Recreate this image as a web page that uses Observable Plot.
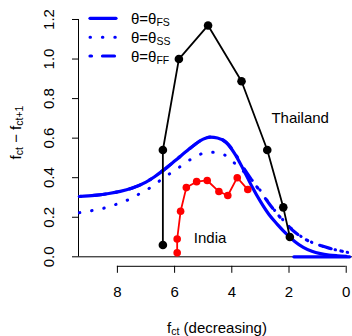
<!DOCTYPE html>
<html><head><meta charset="utf-8">
<script src="https://cdn.jsdelivr.net/npm/d3@7"></script>
<script src="https://cdn.jsdelivr.net/npm/@observablehq/plot@0.6"></script>
<style>body{margin:0;background:#fff} svg{display:block}</style>
</head><body><div id="chart"></div>
<script>
// ---- data ----
const fsX = [9.33, 8.8, 8.3, 7.9, 7.5, 7.0, 6.7, 6.4, 6.0, 5.6, 5.3, 5.0, 4.75, 4.5, 4.2, 3.9, 3.6, 3.3, 3.0, 2.7, 2.4, 2.1, 1.8, 1.5, 1.2, 0.9, 0.6, 0.3, 0.0];
const fsY = [0.305, 0.311, 0.320, 0.331, 0.347, 0.378, 0.405, 0.437, 0.484, 0.532, 0.567, 0.595, 0.605, 0.601, 0.578, 0.522, 0.443, 0.357, 0.280, 0.214, 0.163, 0.117, 0.078, 0.048, 0.028, 0.016, 0.009, 0.005, 0.002];
const fsZeroX = [1.83, -0.12];
const fsZeroY = [0, 0];
const ssX = [9.33, 8.88, 8.42, 7.99, 7.55, 7.15, 6.75, 6.38, 6.0, 5.62, 5.21, 4.77, 4.34, 3.96, 3.56, 3.23, 3.0, 2.7, 2.4, 2.1, 1.8, 1.5, 1.2, 0.9, 0.6, 0.3, 0.0, -0.1];
const ssY = [0.223, 0.234, 0.248, 0.268, 0.293, 0.325, 0.359, 0.400, 0.436, 0.475, 0.512, 0.529, 0.521, 0.480, 0.428, 0.377, 0.335, 0.272, 0.217, 0.170, 0.127, 0.096, 0.073, 0.057, 0.044, 0.033, 0.024, 0.021];
const ffX = [9.33, 8.8, 8.3, 7.9, 7.5, 7.0, 6.7, 6.4, 6.0, 5.6, 5.3, 5.0, 4.75, 4.5, 4.2, 3.9, 3.6, 3.3, 3.0, 2.7, 2.4, 2.1, 1.8, 1.5, 1.2, 0.9, 0.6, 0.3, 0.0, -0.1];
const ffY = [0.305, 0.311, 0.320, 0.331, 0.347, 0.378, 0.405, 0.437, 0.484, 0.532, 0.567, 0.595, 0.605, 0.601, 0.580, 0.525, 0.452, 0.388, 0.330, 0.270, 0.215, 0.168, 0.125, 0.095, 0.072, 0.057, 0.044, 0.033, 0.024, 0.021];
const thaiX = [6.41, 6.41, 5.85, 4.83, 3.66, 2.76, 2.2, 1.97];
const thaiY = [0.06, 0.54, 1.0, 1.17, 0.888, 0.54, 0.25, 0.10];
const indiaX = [5.91, 5.91, 5.79, 5.59, 5.23, 4.86, 4.45, 4.14, 3.81, 3.44];
const indiaY = [0.02, 0.09, 0.23, 0.35, 0.38, 0.386, 0.33, 0.31, 0.40, 0.34];
const countryLabels = ["Thailand", "India"];
const labelX = [1.61, 4.76];
const labelY = [0.70, 0.095];
const xTicks = [8, 6, 4, 2, 0];
const yTicks = [0, 0.2, 0.4, 0.6, 0.8, 1.0, 1.2];
const legendSubs = ["FS", "SS", "FF"];
const xlim = [9, 0];
const ylim = [0, 1.2];

// ---- build ----
const zip = (xs, ys) => xs.map((x, i) => ({x, y: ys[i]}));
const fs = zip(fsX, fsY), fsZero = zip(fsZeroX, fsZeroY), ss = zip(ssX, ssY), ff = zip(ffX, ffY);
const thai = zip(thaiX, thaiY), india = zip(indiaX, indiaY);
const labels = countryLabels.map((t, i) => ({t, x: labelX[i], y: labelY[i]}));
// R-style 4% axis extension
const ext = ([a, b]) => [a - 0.04 * (b - a), b + 0.04 * (b - a)];
const xUsr = ext(xlim), yUsr = ext(ylim);

const W = 352, H = 336;
const mL = 78, mT = 9.5, mB = 70.2;
const BLUE = "#0000ff";
const font = "'Liberation Sans', Arial, Helvetica, sans-serif";

const chart = Plot.plot({
  width: W, height: H,
  marginLeft: mL, marginRight: 0, marginTop: mT, marginBottom: mB,
  x: {domain: xUsr, range: [mL, 356]},
  y: {domain: yUsr},
  style: {fontFamily: font, fontSize: "15px", background: "white", color: "black"},
  marks: [
    Plot.ruleY([0], {stroke: "black", strokeWidth: 1}),
    Plot.ruleX([{x: xUsr[0]}], {x: "x", y1: d3.min(yTicks), y2: d3.max(yTicks), stroke: "black"}),
    Plot.ruleY([{y: yUsr[0]}], {y: "y", x1: d3.max(xTicks), x2: d3.min(xTicks), stroke: "black"}),
    Plot.axisY({ticks: yTicks, tickSize: 6, tickFormat: d3.format(".1f"), tickRotate: -90, tickPadding: 19, fontSize: 15, label: null}),
    Plot.axisX({ticks: xTicks, tickSize: 7, tickFormat: d3.format("d"), tickPadding: 13, fontSize: 15, label: null}),
    Plot.line(fs, {x: "x", y: "y", stroke: BLUE, strokeWidth: 3.2, curve: "monotone-x", strokeLinecap: "round", strokeLinejoin: "round"}),
    Plot.line(fsZero, {x: "x", y: "y", stroke: BLUE, strokeWidth: 3.2, strokeLinecap: "round"}),
    Plot.line(ss, {x: "x", y: "y", stroke: BLUE, strokeWidth: 3, curve: "monotone-x", strokeLinecap: "round", strokeDasharray: "0.5,11.9"}),
    Plot.line(ff, {x: "x", y: "y", stroke: BLUE, strokeWidth: 3.2, curve: "monotone-x", strokeLinecap: "round", strokeDasharray: "1.5,13,12,10"}),
    Plot.line(thai, {x: "x", y: "y", stroke: "black", strokeWidth: 1.8}),
    Plot.dot(thai, {x: "x", y: "y", r: 4.3, fill: "black"}),
    Plot.line(india, {x: "x", y: "y", stroke: "#ff0000", strokeWidth: 1.8}),
    Plot.dot(india, {x: "x", y: "y", r: 3.8, fill: "#ff0000"}),
    Plot.text(labels, {x: "x", y: "y", text: "t", fontSize: 15, fill: "black"})
  ]
});
document.getElementById("chart").appendChild(chart);

// ---- titles and legend (pixel layout) ----
const svg = d3.select(chart);
// x title
const xt = svg.append("text").attr("x", 217).attr("y", 332.5).attr("text-anchor", "middle")
  .attr("font-family", font).attr("font-size", 15).attr("fill", "black");
xt.append("tspan").text("f");
xt.append("tspan").attr("font-size", 10.5).attr("dy", 2.5).text("ct");
xt.append("tspan").attr("dy", -2.5).text(" (decreasing)");
// y title
const yt = svg.append("text").attr("transform", "translate(20.5,132.5) rotate(-90)").attr("text-anchor", "middle")
  .attr("font-family", font).attr("font-size", 15).attr("fill", "black");
yt.append("tspan").text("f");
yt.append("tspan").attr("font-size", 10.5).attr("dy", 2.5).text("ct");
yt.append("tspan").attr("dy", -2.5).text(" \u2212 f");
yt.append("tspan").attr("font-size", 10.5).attr("dy", 2.5).text("ct+1");
// legend
const dashes = [null, "0.5,11.9", "1.5,11,12,10"];
const rowsY = [18.3, 37.3, 56];
legendSubs.forEach((s, i) => {
  const ln = svg.append("line").attr("x1", 90).attr("x2", 116).attr("y1", rowsY[i]).attr("y2", rowsY[i])
    .attr("stroke", BLUE).attr("stroke-width", i === 1 ? 3 : 3.2).attr("stroke-linecap", "round");
  if (dashes[i]) ln.attr("stroke-dasharray", dashes[i]);
  const t = svg.append("text").attr("x", 131).attr("y", rowsY[i] + 5.7).attr("text-anchor", "start")
    .attr("font-family", font).attr("font-size", 15).attr("fill", "black");
  t.append("tspan").text("\u03b8=\u03b8");
  t.append("tspan").attr("font-size", 10.5).attr("dy", 2).text(s);
});
</script>
</body></html>
